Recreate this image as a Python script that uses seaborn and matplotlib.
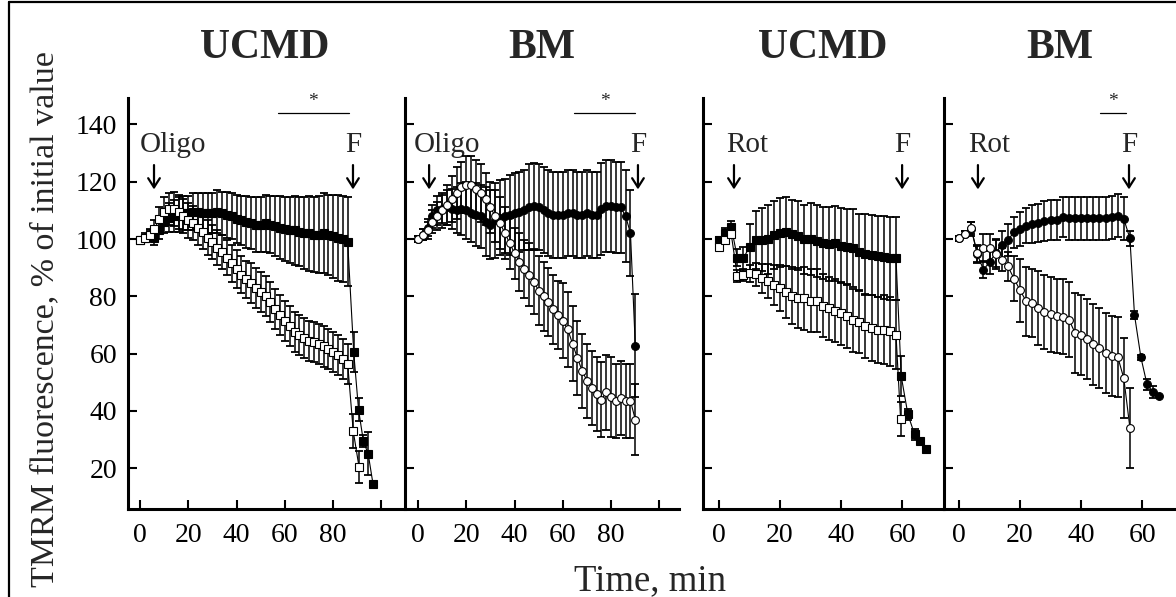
import matplotlib
matplotlib.use("Agg")
import matplotlib.pyplot as plt
from matplotlib.lines import Line2D
import pandas as pd
import seaborn as sns

# ---------------- data (TMRM fluorescence, % of initial value) ----------------
# Panel 1: UCMD, oligomycin then FCCP (squares)
p1_filled_t = [0, 2, 4, 6, 8, 10, 12, 14, 16, 18, 20, 22, 24, 26, 28, 30, 32, 34, 36, 38,
               40, 42, 44, 46, 48, 50, 52, 54, 56, 58, 60, 62, 64, 66, 68, 70, 72, 74, 76, 78,
               80, 82, 84, 86, 88.5, 90.5, 92.5, 94.5, 96.5]
p1_filled_mean = [99.5, 100.5, 101.5, 100.5, 103, 106, 107.5, 108, 108.5, 109,
                  109, 109.5, 109.5, 109, 109, 109, 109.5, 109, 108.5, 108,
                  107, 106.5, 106, 105.5, 105, 105, 105.5, 105, 104.5, 104,
                  103.5, 103, 103, 102.5, 102, 102, 101.5, 101.5, 102, 101.5,
                  101, 100.5, 100, 99, 60.5, 40.5, 29.5, 25, 14.5]
p1_filled_sd = [1, 1.5, 2, 2.5, 3, 4, 5, 5.5, 6, 6,
                6, 6.5, 6.5, 7, 7, 7, 7.5, 7.5, 8, 8,
                8.5, 8.5, 9, 9, 9.5, 9.5, 10, 10, 10.5, 11,
                11, 11.5, 12, 12, 12.5, 13, 13, 13.5, 14, 14,
                14.5, 15, 15, 15.5, 7, 4, 2, 7.5, 0]
p1_open_t = [0, 2, 4, 6, 8, 10, 12, 14, 16, 18, 20, 22, 24, 26, 28, 30, 32, 34, 36, 38,
             40, 42, 44, 46, 48, 50, 52, 54, 56, 58, 60, 62, 64, 66, 68, 70, 72, 74, 76, 78,
             80, 82, 84, 86, 88.3, 90.7]
p1_open_mean = [99.5, 100.5, 101.5, 103.5, 107, 109.5, 110.5, 110.5, 109.5, 108,
                106.5, 105.5, 104, 102.5, 100.5, 99, 97, 95.5, 93.5, 91.5,
                89.5, 87.5, 86, 84.5, 83, 81.5, 80, 78, 75.5, 73.5,
                71.5, 69.5, 67.5, 66.5, 65.5, 64.5, 64, 63.5, 62.5, 61.5,
                60.5, 59.5, 58, 56.5, 33, 20.5]
p1_open_sd = [1, 1, 1.5, 3, 4, 5, 5.5, 6, 6, 6,
              6, 6, 6, 6, 6, 6, 6, 6, 6, 6.5,
              6.5, 6.5, 6.5, 7, 7, 7, 7, 7, 7, 7,
              7, 7, 7, 7, 7, 7, 7, 7, 7, 7,
              7, 7, 7, 7, 6, 5.5]

# Panel 2: BM, oligomycin then FCCP (circles)
p2_t = [0, 2, 4, 6, 8, 10, 12, 14, 16, 18, 20, 22, 24, 26, 28, 30, 32, 34, 36, 38,
        40, 42, 44, 46, 48, 50, 52, 54, 56, 58, 60, 62, 64, 66, 68, 70, 72, 74, 76, 78,
        80, 82, 84, 86, 88, 90]
p2_filled_mean = [100, 101.5, 104, 108, 110, 110.5, 111, 110.5, 110, 110.5,
                  110, 109, 108.5, 108, 106, 105, 106.5, 107.5, 108, 108.5,
                  109, 109.5, 110, 111, 111.5, 111, 110, 109, 108.5, 108.5,
                  108.5, 109, 109, 108.5, 108.5, 109, 108.5, 108.5, 110.5, 111.5,
                  111.5, 111, 111, 108, 102, 62.8]
p2_filled_sd = [1, 2, 3, 4, 5, 5, 6, 7, 8, 9,
                10, 10, 11, 11, 12, 12, 13, 13, 13, 14,
                14, 14, 14, 15, 15, 15, 15, 15, 15, 15,
                15, 15, 15, 15, 15, 15, 15, 15, 16, 16,
                16, 16, 16, 16, 15, 18]
p2_open_mean = [100, 101.5, 103, 106, 108, 110, 112, 114, 116, 118,
                119, 119, 117.5, 116, 114, 111, 108, 105.5, 102, 98.5,
                95, 92, 89.5, 87.5, 85, 82, 80, 78, 75.5, 73.5,
                71.5, 68.5, 63.5, 58.5, 54, 50.5, 48, 46, 44, 46.5,
                45, 43.5, 44.5, 43.5, 43.5, 37]
p2_open_sd = [1, 2, 3, 4, 5, 6, 7, 8, 9, 9,
              10, 10, 10, 10, 9, 9, 9, 9, 9, 9,
              9, 10, 10, 11, 11, 12, 12, 12, 12, 12,
              13, 13, 13, 13, 13, 13, 13, 13, 13, 13,
              14, 13, 13, 13, 13, 12.5]

# Panel 3: UCMD, rotenone then FCCP (squares)
p3_filled_t = [0, 2, 4, 6, 8, 10, 12, 14, 16, 18, 20, 22, 24, 26, 28, 30, 32, 34, 36, 38,
               40, 42, 44, 46, 48, 50, 52, 54, 56, 58, 59.7, 61.9, 64.1, 65.9, 67.9]
p3_filled_mean = [99.7, 102.2, 104.3, 93.5, 93.3, 97.3, 99.7, 99.7, 99.9, 101.4,
                  102.2, 102.5, 101.6, 101.1, 99.9, 99.9, 99.3, 98.7, 98.2, 98.5,
                  97.7, 97.3, 96.8, 95.3, 94.7, 94.3, 93.9, 93.7, 93.3, 93.3,
                  52.2, 38.8, 31.8, 29.5, 26.9]
p3_filled_sd = [1, 1.5, 2, 3, 4, 8, 10, 11, 12, 12,
                12, 12, 12, 12, 12, 12.5, 12.5, 12.5, 13, 13,
                13, 13, 13.5, 13.5, 14, 14, 14, 14.5, 14.5, 14.5,
                7, 2, 2, 0, 0]
p3_open_t = [0, 2, 4, 6, 8, 10, 12, 14, 16, 18, 20, 22, 24, 26, 28, 30, 32, 34, 36, 38,
             40, 42, 44, 46, 48, 50, 52, 54, 56, 58, 59.5]
p3_open_mean = [97.3, 99.7, 101.7, 87.1, 87.4, 88, 87.7, 86.3, 85.4, 84,
                82.8, 81.5, 80.2, 79.4, 79.4, 78.5, 78.4, 76.8, 75.9, 74.9,
                74.1, 73, 71.6, 71.2, 69.5, 68.9, 68.3, 68.3, 67.8, 66.6, 37.2]
p3_open_sd = [1, 1, 1.5, 2, 2, 3, 4, 5, 6, 7,
              8, 9, 10, 10.5, 11, 11, 11, 11, 11, 11,
              11, 11, 11, 11, 11, 11.5, 11.5, 12, 12, 12, 6]

# Panel 4: BM, rotenone then FCCP (circles)
p4_filled_t = [0, 2, 4, 6, 8, 10, 12, 14, 16, 18, 20, 22, 24, 26, 28, 30, 32, 34, 36, 38,
               40, 42, 44, 46, 48, 50, 52, 54, 56, 57.5, 59.6, 61.6, 63.5, 65.4]
p4_filled_mean = [100.2, 101.9, 103.5, 94.6, 89.3, 91.9, 95.1, 97.8, 99.7, 102.3,
                  103.5, 104.7, 105.2, 105.6, 106.2, 106.5, 106.7, 107.6, 107.3, 107.3,
                  107.3, 107.3, 107.3, 107.3, 107.3, 107.6, 108.1, 107, 100.2,
                  73.5, 58.7, 49.3, 46.7, 45.2]
p4_filled_sd = [1, 1, 2.5, 3, 3, 4, 5, 5, 5.5, 5.5,
                6, 6, 6.5, 6.5, 7, 7, 7, 7, 7.5, 7.5,
                7.5, 7.5, 7.5, 7.5, 7.5, 7.5, 7.5, 7.5, 2.5,
                1.5, 1, 2, 2, 0]
p4_open_t = [0, 2, 4, 6, 8, 10, 12, 14, 16, 18, 20, 22, 24, 26, 28, 30, 32, 34, 36, 38,
             40, 42, 44, 46, 48, 50, 52, 54, 56]
p4_open_mean = [100.2, 101.9, 103.8, 95, 96.9, 96.9, 94.6, 92.8, 90.5, 86.2,
                82.1, 78.3, 77.7, 76, 74.5, 73.7, 73.1, 72.9, 71.9, 67.3,
                66.5, 65, 63.2, 62.1, 60.3, 59.2, 58.9, 51.4, 34.1]
p4_open_sd = [1, 1, 2, 3, 5, 5, 5, 4, 5, 8,
              11, 12, 12, 13, 13, 13, 13, 13, 13, 14,
              14, 14, 14, 14, 14, 14, 14, 14, 14]

titles = ["UCMD", "BM", "UCMD", "BM"]
drug_labels = ["Oligo", "Oligo", "Rot", "Rot"]
drug_x = [5.8, 4.6, 4.9, 6.2]          # time of inhibitor addition
drug_text_x = [13.7, 12.0, 9.2, 9.8]
fccp_x = [88.2, 91.1, 60.0, 55.7]       # time of FCCP addition
star_spans = [(57, 86.5), (64.6, 89.9), None, (46.2, 54.8)]
y_ticks = [20, 40, 60, 80, 100, 120, 140]
x_ticks_long = [0, 20, 40, 60, 80, 100]
x_labels_long = ["0", "20", "40", "60", "80", ""]
x_ticks_short = [0, 20, 40, 60]
x_labels_short = ["0", "20", "40", "60"]

# ---------------- style ----------------
sns.set_theme(style="ticks")
plt.rcParams["font.family"] = ["Liberation Serif", "DejaVu Serif"]
plt.rcParams["axes.linewidth"] = 2.2

W, H = 1176, 597
fig = plt.figure(figsize=(W / 100, H / 100), dpi=100)
fig.patch.set_facecolor("white")


def px_rect(left, top, right, bottom):
    return [left / W, 1 - bottom / H, (right - left) / W, (bottom - top) / H]


axes_px = [(128, 98, 402, 509), (405, 98, 679, 509), (703, 98, 943, 509), (944, 98, 1176, 509)]
x_limits = [(-4.97, 108.5), (-5.38, 108.1), (-5.25, 73.4), (-4.92, 71.1)]
y_limits = (5.8, 149.2)

series = [
    [(p1_filled_t, p1_filled_mean, p1_filled_sd, "s", True),
     (p1_open_t, p1_open_mean, p1_open_sd, "s", False)],
    [(p2_t, p2_filled_mean, p2_filled_sd, "o", True),
     (p2_t, p2_open_mean, p2_open_sd, "o", False)],
    [(p3_filled_t, p3_filled_mean, p3_filled_sd, "s", True),
     (p3_open_t, p3_open_mean, p3_open_sd, "s", False)],
    [(p4_filled_t, p4_filled_mean, p4_filled_sd, "o", True),
     (p4_open_t, p4_open_mean, p4_open_sd, "o", False)],
]


def draw_series(ax, t, m, sd, marker, filled, z):
    ax.errorbar(t, m, yerr=sd, fmt="none", ecolor="black", elinewidth=1.1,
                capsize=2.6, capthick=1.3, zorder=z)
    df = pd.DataFrame({"t": t, "v": m})
    sns.lineplot(data=df, x="t", y="v", ax=ax, color="black", lw=0.8,
                 estimator=None, sort=False, legend=False,
                 marker=marker, markersize=5.2 if marker == "s" else 5.6,
                 markerfacecolor="black" if filled else "white",
                 markeredgecolor="black", markeredgewidth=0.8, zorder=z + 1)


for i in range(4):
    ax = fig.add_axes(px_rect(*axes_px[i]))
    ax.set_facecolor("white")
    for k, (t, m, sd, mk, filled) in enumerate(series[i]):
        draw_series(ax, t, m, sd, mk, filled, 2 + 2 * k)
    ax.set_xlim(*x_limits[i])
    ax.set_ylim(*y_limits)
    ax.set_xlabel("")
    ax.set_ylabel("")
    sns.despine(ax=ax)
    for s in ("left", "bottom"):
        ax.spines[s].set_linewidth(2.2)
        ax.spines[s].set_color("black")
    ax.set_yticks(y_ticks)
    if i == 0:
        ax.set_yticklabels([str(v) for v in y_ticks])
    else:
        ax.set_yticklabels([])
    if i < 2:
        ax.set_xticks(x_ticks_long)
        ax.set_xticklabels(x_labels_long)
    else:
        ax.set_xticks(x_ticks_short)
        ax.set_xticklabels(x_labels_short)
    ax.tick_params(axis="both", direction="in", length=6.5, width=1.5,
                   colors="black", labelsize=20)
    ax.tick_params(axis="y", pad=8)
    ax.tick_params(axis="x", pad=10)

    # inhibitor and FCCP additions
    ax.text(drug_text_x[i], 132.8, drug_labels[i], ha="center", va="center", fontsize=21)
    ax.text(fccp_x[i], 132.8, "F", ha="center", va="center", fontsize=21)
    for xa in (drug_x[i], fccp_x[i]):
        ax.annotate("", xy=(xa, 117.3), xytext=(xa, 125.8),
                    arrowprops=dict(arrowstyle="->,head_length=0.55,head_width=0.35",
                                    lw=1.6, color="black", shrinkA=0, shrinkB=0))

    # significance bar
    if star_spans[i] is not None:
        x0, x1 = star_spans[i]
        ax.plot([x0, x1], [143.8, 143.8], color="black", lw=0.9, clip_on=False)
        ax.text((x0 + x1) / 2, 145.0, "*", ha="center", va="bottom", fontsize=14)

    # panel title
    l, t_, r, b = axes_px[i]
    fig.text((l + r) / 2 / W, 1 - 58 / H, titles[i], ha="center", va="baseline",
             fontsize=30, fontweight="bold")

fig.text(45 / W, 1 - 319 / H, "TMRM fluorescence, % of initial value", rotation=90,
         ha="center", va="center", fontsize=24.5)
fig.text(650 / W, 1 - 590 / H, "Time, min", ha="center", va="baseline", fontsize=26.5)

# outer frame
fig.add_artist(Line2D([9 / W, 9 / W], [0, 1 - 2 / H], color="black", lw=1.6))
fig.add_artist(Line2D([9 / W, 1], [1 - 2 / H, 1 - 2 / H], color="black", lw=1.6))

fig.savefig("out.png", dpi=100, facecolor="white")
